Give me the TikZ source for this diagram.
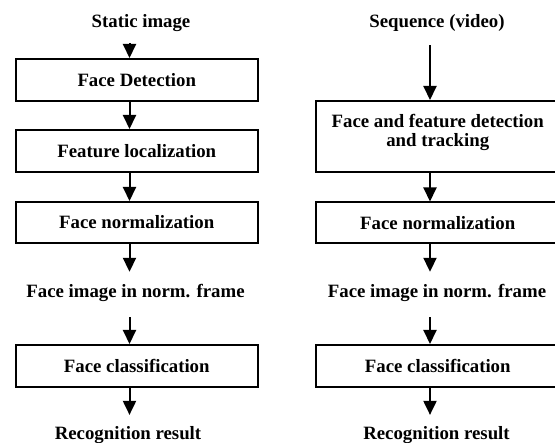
\documentclass[tikz,border=0pt]{standalone}
\usepackage{fontspec}
\setmainfont{Liberation Serif}
\usetikzlibrary{arrows.meta,calc}
\begin{document}
\begin{tikzpicture}[x=1pt,y=-1pt,
  txt/.style={font=\fontsize{18.8}{19.5}\selectfont\bfseries},
  lab/.style={txt,inner sep=0pt,anchor=base,text height=12.4pt,text depth=0pt},
  box/.style={txt,draw,line width=2pt,inner sep=0pt,text height=12.4pt,text depth=0pt,align=center},
  lbox/.style={box,minimum width=242.5pt},
  rbox/.style={box,minimum width=244pt},
  arr/.style={line width=2pt,-{Triangle[length=14pt,width=13pt]}}]
\useasboundingbox (0,0) rectangle (555,443);
\clip (0,0) rectangle (555,443);
\coordinate (LX) at (129.5,0);
\coordinate (RX) at (430,0);
% left column
\node[lab] (ls) at (141,27.4) {Static image};
\node[lbox,minimum height=42pt] (L1) at (136.75,80) {Face Detection};
\node[lbox,minimum height=42pt] (L2) at (136.75,151) {Feature localization};
\node[lbox,minimum height=41pt] (L3) at (136.75,222.5) {Face normalization};
\node[lab] (lf) at (135.5,298) {Face image in norm. frame};
\node[lbox,minimum height=42pt] (L4) at (136.75,366) {Face classification};
\node[lab] (lr) at (128,439.5) {Recognition result};
% right column
\node[lab] (rs) at (437,27.4) {Sequence (video)};
\node[rbox,minimum height=71pt,text height=31.9pt,text depth=11pt] (R1) at (437.75,136.5) {Face and feature detection\\and tracking};
\node[rbox,minimum height=41pt] (R2) at (437.75,223) {Face normalization};
\node[lab] (rf) at (437,298) {Face image in norm. frame};
\node[rbox,minimum height=42pt] (R4) at (437.75,366) {Face classification};
\node[lab] (rr) at (436.5,439.5) {Recognition result};
% left arrows
\draw[arr] ($(ls.south -| LX)+(0,15.6)$) -- (L1.north -| LX);
\draw[arr] (L1.south -| LX) -- (L2.north -| LX);
\draw[arr] (L2.south -| LX) -- (L3.north -| LX);
\draw[arr] (L3.south -| LX) -- ($(lf.north -| LX)+(0,-13.6)$);
\draw[arr] ($(lf.south -| LX)+(0,19)$) -- (L4.north -| LX);
\draw[arr] (L4.south -| LX) -- ($(lr.north -| LX)+(0,-12)$);
% right arrows
\draw[arr] ($(rs.south -| RX)+(0,17.6)$) -- (R1.north -| RX);
\draw[arr] (R1.south -| RX) -- (R2.north -| RX);
\draw[arr] (R2.south -| RX) -- ($(rf.north -| RX)+(0,-13.6)$);
\draw[arr] ($(rf.south -| RX)+(0,19)$) -- (R4.north -| RX);
\draw[arr] (R4.south -| RX) -- ($(rr.north -| RX)+(0,-12)$);
\end{tikzpicture}
\end{document}
